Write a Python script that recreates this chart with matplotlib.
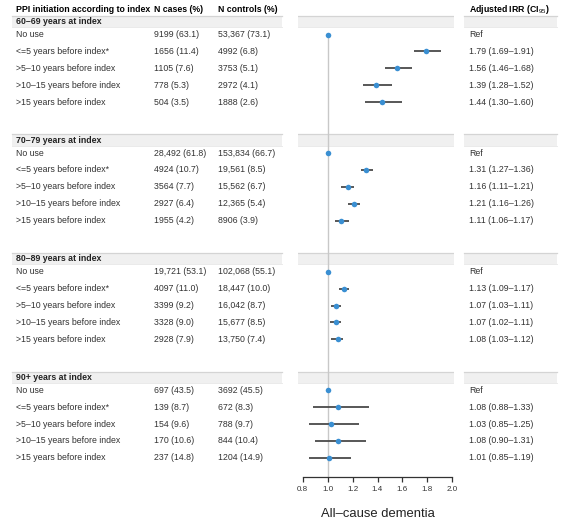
import matplotlib
matplotlib.use("Agg")
import matplotlib.pyplot as plt
from matplotlib.patches import Rectangle

plt.rcParams['font.family'] = ['Liberation Sans', 'DejaVu Sans']
plt.rcParams['mathtext.fontset'] = 'custom'
plt.rcParams['mathtext.rm'] = 'Liberation Sans'
plt.rcParams['mathtext.it'] = 'Liberation Sans:italic'
plt.rcParams['mathtext.bf'] = 'Liberation Sans:bold'

# Data
groups = ['60–69 years at index', '70–79 years at index',
          '80–89 years at index', '90+ years at index']
rows = ['No use', '<=5 years before index*', '>5–10 years before index',
        '>10–15 years before index', '>15 years before index']

n_cases = [
    ['9199 (63.1)', '1656 (11.4)', '1105 (7.6)', '778 (5.3)', '504 (3.5)'],
    ['28,492 (61.8)', '4924 (10.7)', '3564 (7.7)', '2927 (6.4)', '1955 (4.2)'],
    ['19,721 (53.1)', '4097 (11.0)', '3399 (9.2)', '3328 (9.0)', '2928 (7.9)'],
    ['697 (43.5)', '139 (8.7)', '154 (9.6)', '170 (10.6)', '237 (14.8)'],
]
n_controls = [
    ['53,367 (73.1)', '4992 (6.8)', '3753 (5.1)', '2972 (4.1)', '1888 (2.6)'],
    ['153,834 (66.7)', '19,561 (8.5)', '15,562 (6.7)', '12,365 (5.4)', '8906 (3.9)'],
    ['102,068 (55.1)', '18,447 (10.0)', '16,042 (8.7)', '15,677 (8.5)', '13,750 (7.4)'],
    ['3692 (45.5)', '672 (8.3)', '788 (9.7)', '844 (10.4)', '1204 (14.9)'],
]
irr = [
    [1.00, 1.79, 1.56, 1.39, 1.44],
    [1.00, 1.31, 1.16, 1.21, 1.11],
    [1.00, 1.13, 1.07, 1.07, 1.08],
    [1.00, 1.08, 1.03, 1.08, 1.01],
]
irr_lo = [
    [None, 1.69, 1.46, 1.28, 1.30],
    [None, 1.27, 1.11, 1.16, 1.06],
    [None, 1.09, 1.03, 1.02, 1.03],
    [None, 0.88, 0.85, 0.90, 0.85],
]
irr_hi = [
    [None, 1.91, 1.68, 1.52, 1.60],
    [None, 1.36, 1.21, 1.26, 1.17],
    [None, 1.17, 1.11, 1.11, 1.12],
    [None, 1.33, 1.25, 1.31, 1.19],
]
x_ticks = [0.8, 1.0, 1.2, 1.4, 1.6, 1.8, 2.0]

# Layout (pixels from top)
W, H = 561, 521
group_step = 118.6
row_step = 16.9
fs = 6.3
body_col = '#333333'
band_fill = '#f0f0f0'
band_edge = '#d4d4d4'
dot_col = '#3a8fd2'

fig = plt.figure(figsize=(W / 100, H / 100), dpi=100)
bg = fig.add_axes([0, 0, 1, 1])
bg.set_xlim(0, W)
bg.set_ylim(H, 0)
bg.axis('off')

x_lab, x_cas, x_con, x_irr = 16, 154.3, 217.7, 469
f_left, f_right = 298.3, 454.0

# column headers
bg.text(x_lab, 9, 'PPI initiation according to index', fontsize=fs, fontweight='bold', va='center')
bg.text(x_cas, 9, 'N cases (%)', fontsize=fs, fontweight='bold', va='center')
bg.text(x_con, 9, 'N controls (%)', fontsize=fs, fontweight='bold', va='center')
bg.text(x_irr, 9, r'Adjusted IRR (CI$_{95}$)', fontsize=fs, fontweight='bold', va='center')

fx = fig.add_axes([f_left / W, 0, (f_right - f_left) / W, 1])
fx.patch.set_alpha(0)
x0, x1 = 0.8, 2.0
px_per = (452.3 - 302.7) / (x1 - x0)
fx.set_xlim(x0 - (302.7 - f_left) / px_per, x1 + (f_right - 452.3) / px_per)
fx.set_ylim(H, 0)

axis_y = 477.3
first_row = None
for g, gname in enumerate(groups):
    h = 21.5 + group_step * g
    top, bot = h - 5.7, h + 5.5
    for (a, b) in [(12, 281.7), (463.7, 557)]:
        bg.add_patch(Rectangle((a, top), b - a, bot - top, facecolor=band_fill, edgecolor='none', zorder=0))
        bg.plot([a, b], [top, top], color=band_edge, lw=0.9, zorder=1)
        bg.plot([a, b], [bot, bot], color='#e6e6e6', lw=0.6, zorder=1)
    fx.axhspan(top, bot, facecolor=band_fill, edgecolor='none', zorder=0)
    fx.axhline(top, color=band_edge, lw=0.9, zorder=1)
    fx.axhline(bot, color='#e6e6e6', lw=0.6, zorder=1)
    bg.text(x_lab, h, gname, fontsize=fs, fontweight='bold', va='center', color='#222222')

    for r, rname in enumerate(rows):
        y = h + 13 + row_step * r
        if first_row is None:
            first_row = y
        bg.text(x_lab, y, rname, fontsize=fs, va='center', color=body_col)
        bg.text(x_cas, y, n_cases[g][r], fontsize=fs, va='center', color=body_col)
        bg.text(x_con, y, n_controls[g][r], fontsize=fs, va='center', color=body_col)
        lo, hi = irr_lo[g][r], irr_hi[g][r]
        if lo is None:
            label = 'Ref'
        else:
            label = f'{irr[g][r]:.2f} ({lo:.2f}–{hi:.2f})'
            fx.hlines(y, lo, hi, color='#4a4a4a', lw=1.3, zorder=3)
        bg.text(x_irr, y, label, fontsize=fs, va='center', color=body_col)
        fx.plot(irr[g][r], y, 'o', color=dot_col, ms=4.0, mec='none', zorder=4)

fx.vlines(1.0, first_row, axis_y, color='#c8c8c8', lw=1.0, zorder=2)

for s in ['top', 'left', 'right']:
    fx.spines[s].set_visible(False)
fx.spines['bottom'].set_position(('data', axis_y))
fx.spines['bottom'].set_bounds(x0, x1)
fx.spines['bottom'].set_color('#333333')
fx.spines['bottom'].set_linewidth(0.9)
fx.set_xticks(x_ticks)
fx.set_xticklabels([f'{t:.1f}' for t in x_ticks])
fx.tick_params(axis='x', direction='out', length=3.5, width=0.9, color='#333333',
               labelsize=5.8, labelcolor='#333333', pad=3)
fx.set_yticks([])

bg.text((302.7 + 452.3) / 2, 514, 'All–cause dementia', fontsize=9.4, ha='center', va='center', color='#222222')

fig.savefig('out.png', dpi=100)
